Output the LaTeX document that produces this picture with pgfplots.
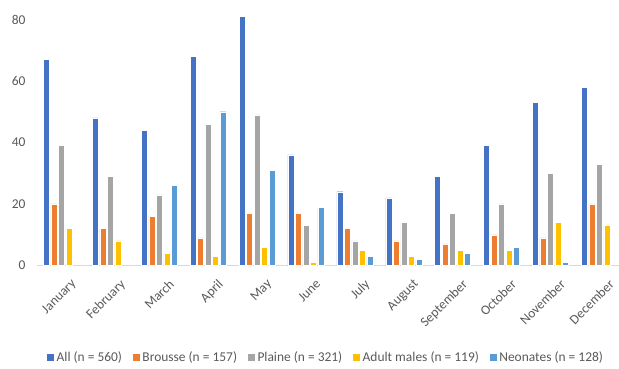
\documentclass[border=0pt]{standalone}
\usepackage{pgfplots}
\pgfplotsset{compat=1.18}
\usepackage{fontspec}
\setmainfont{Carlito}
\definecolor{cAll}{HTML}{4472C4}
\definecolor{cBro}{HTML}{ED7D31}
\definecolor{cPla}{HTML}{A5A5A5}
\definecolor{cAdu}{HTML}{FFC000}
\definecolor{cNeo}{HTML}{5B9BD5}
\definecolor{txt}{HTML}{595959}
\definecolor{axl}{HTML}{D9D9D9}
\begin{document}
\begin{tikzpicture}
\begin{axis}[
  x=48.9bp, y=3.075bp,
  xmin=-0.5, xmax=11.4, ymin=0, ymax=82,
  ybar=1.5bp, bar width=6bp,
  axis x line*=bottom, axis y line*=left,
  x axis line style={draw=axl, line width=0.8pt, -},
  y axis line style={draw=none},
  ytick={0,20,40,60,80},
  xtick={0,...,11},
  xticklabels={January,February,March,April,May,June,July,August,September,October,November,December},
  major tick length=0pt,
  tick style={draw=none},
  ticklabel style={font=\fontsize{13.5}{15}\selectfont, text=txt},
  /pgf/number format/assume math mode=true,
  xticklabel style={xshift=9bp, yshift=-8bp, rotate=45, anchor=north east},
  yticklabel style={xshift=-8bp},
  clip=false,
  legend style={at={(axis description cs:0.496,0)}, anchor=center, yshift=-91.5bp, draw=none, fill=none,
    font=\fontsize{13.5}{15}\selectfont, text=txt, legend columns=-1,
    /tikz/every even column/.append style={column sep=8bp}},
  legend image code/.code={\fill[#1] (0bp,-4bp) rectangle (8bp,4bp);},
  every axis plot/.append style={draw=white, line width=0.4pt},
]
\addplot[fill=cAll] coordinates {(0,67)(1,48)(2,44)(3,68)(4,81)(5,36)(6,24)(7,22)(8,29)(9,39)(10,53)(11,58)};
\addplot[fill=cBro] coordinates {(0,20)(1,12)(2,16)(3,9)(4,17)(5,17)(6,12)(7,8)(8,7)(9,10)(10,9)(11,20)};
\addplot[fill=cPla] coordinates {(0,39)(1,29)(2,23)(3,46)(4,49)(5,13)(6,8)(7,14)(8,17)(9,20)(10,30)(11,33)};
\addplot[fill=cAdu] coordinates {(0,12)(1,8)(2,4)(3,3)(4,6)(5,1)(6,5)(7,3)(8,5)(9,5)(10,14)(11,13)};
\addplot[fill=cNeo] coordinates {(2,26)(3,50)(4,31)(5,19)(6,3)(7,2)(8,4)(9,6)(10,1)};
\legend{All (n = 560),Brousse (n = 157),Plaine (n = 321),Adult males (n = 119),Neonates (n = 128)}
\end{axis}
\pgfresetboundingbox
\path[use as bounding box] (-37bp,-103.5bp) rectangle (582bp,265.5bp);
\end{tikzpicture}
\end{document}
